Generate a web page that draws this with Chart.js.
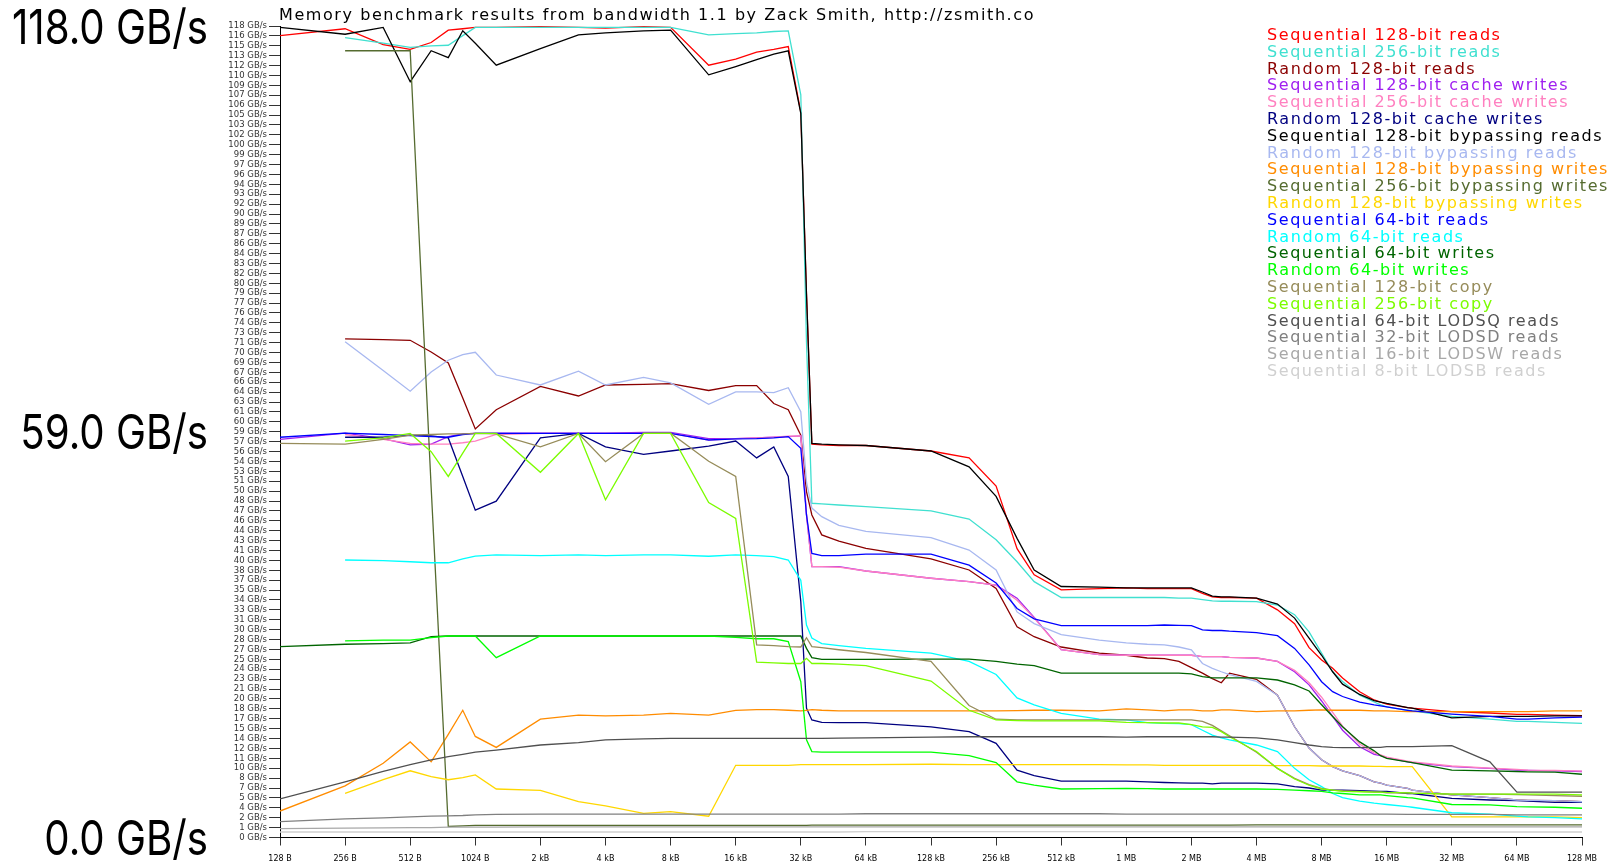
<!DOCTYPE html>
<html>
<head>
<meta charset="utf-8">
<title>Memory benchmark results</title>
<script src="https://cdn.jsdelivr.net/npm/chart.js@4.4.1/dist/chart.umd.min.js"></script>
<style>
  html, body { margin: 0; padding: 0; background: #fff; }
  canvas { display: block; }
</style>
</head>
<body>
<canvas id="chart" width="1610" height="864" style="width:1610px;height:864px"></canvas>
<script>
// Chunk sizes tested, in bytes
const chunkSizes = [
  128, 256, 384, 512, 640, 768, 896, 1024, 1280, 2048,
  3072, 4096, 6144, 8192, 12288, 16384, 20480, 24576, 28672, 32768,
  34816, 36864, 40960, 49152, 65536, 131072, 196608, 262144, 327680, 393216,
  524288, 786432, 1048576, 1310720, 1572864, 1835008, 2097152, 2359296, 2621440, 2883584,
  3145728, 4194304, 5242880, 6291456, 7340032, 8388608, 9437184, 10485760, 12582912, 14680064,
  15728640, 16777216, 20971520, 22020096, 33554432, 50331648, 67108864, 75497472, 100663296, 134217728
];

const xTickLabels = ['128 B', '256 B', '512 B', '1024 B', '2 kB', '4 kB', '8 kB', '16 kB', '32 kB', '64 kB',
  '128 kB', '256 kB', '512 kB', '1 MB', '2 MB', '4 MB', '8 MB', '16 MB', '32 MB', '64 MB', '128 MB'];

const yMax = 118;
const yTickLabels = [0, 1, 2, 4, 5, 7, 8, 10, 11, 12, 14, 15, 17, 18, 20, 21, 23, 24, 25, 27, 28, 30, 31, 33, 34, 35,
  37, 38, 40, 41, 43, 44, 46, 47, 48, 50, 51, 53, 54, 56, 57, 59, 60, 61, 63, 64, 66, 67, 69, 70, 71, 73, 74,
  76, 77, 79, 80, 82, 83, 84, 86, 87, 89, 90, 92, 93, 94, 96, 97, 99, 100, 102, 103, 105, 106, 107, 109, 110,
  112, 113, 115, 116, 118];
const bigYLabels = [0, 59, 118];

const titleText = 'Memory benchmark results from bandwidth 1.1 by Zack Smith, http://zsmith.co';

const seriesNames = [
  'Sequential 128-bit reads', 'Sequential 256-bit reads', 'Random 128-bit reads',
  'Sequential 128-bit cache writes', 'Sequential 256-bit cache writes', 'Random 128-bit cache writes',
  'Sequential 128-bit bypassing reads', 'Random 128-bit bypassing reads', 'Sequential 128-bit bypassing writes',
  'Sequential 256-bit bypassing writes', 'Random 128-bit bypassing writes', 'Sequential 64-bit reads',
  'Random 64-bit reads', 'Sequential 64-bit writes', 'Random 64-bit writes', 'Sequential 128-bit copy',
  'Sequential 256-bit copy', 'Sequential 64-bit LODSQ reads', 'Sequential 32-bit LODSD reads',
  'Sequential 16-bit LODSW reads', 'Sequential 8-bit LODSB reads'
];

const seriesColors = [
  '#ff0000', '#40e0d0', '#8b0000', '#a020f0', '#ff80c0', '#000080', '#000000', '#a8b8f0', '#ff8c00',
  '#556b2f', '#ffd700', '#0000ff', '#00ffff', '#006400', '#00ff00', '#968c5a', '#7cfc00',
  '#505050', '#808080', '#a8a8a8', '#d0d0d0'
];

// Bandwidth in GB/s, one value per chunk size (null = not measured)
const seq128Reads = [116.6,117.6,115.3,114.6,115.6,117.4,117.6,117.8,117.8,117.9,
  117.8,117.7,117.9,117.8,112.3,113.2,114.2,114.6,115.0,105.5,
  79.0,57.2,57.1,57.0,57.0,56.2,55.2,51.1,42.0,38.2,
  36.0,36.2,36.3,36.2,36.2,36.2,36.2,35.5,35.0,34.9,
  34.9,34.8,33.1,31.1,27.6,25.8,24.6,23.2,21.2,20.0,
  19.7,19.4,18.9,18.8,18.3,18.1,17.9,17.9,17.8,17.7];
const seq256Reads = [null,116.3,115.5,114.9,115.1,115.2,116.6,117.8,117.8,117.8,
  117.8,117.8,117.8,117.8,116.7,116.9,117.0,117.2,117.3,108.0,
  72.0,48.6,48.5,48.35,48.1,47.5,46.3,43.3,40.1,37.2,
  34.9,34.9,34.9,34.9,34.9,34.8,34.8,34.6,34.4,34.35,
  34.35,34.3,33.8,32.4,29.9,26.8,24.1,22.7,20.7,19.7,
  19.3,19.0,18.5,18.4,17.6,17.2,16.9,16.9,16.75,16.6];
const rand128Reads = [null,72.5,72.4,72.3,70.6,69.0,63.9,59.4,62.2,65.6,
  64.2,65.8,65.9,66.0,65.0,65.7,65.7,63.1,62.2,58.5,
  50.3,46.9,44.0,43.1,42.05,40.5,38.9,36.2,30.65,29.2,
  27.7,26.8,26.5,26.1,26.0,25.6,24.7,23.9,23.1,22.5,
  23.9,23.0,20.7,16.1,13.0,11.3,10.3,9.7,9.0,8.1,
  7.9,7.6,7.15,6.9,6.2,5.8,5.45,5.4,5.35,5.2];
const seq128CacheWrites = [57.9,58.8,58.0,57.1,57.2,58.3,58.7,58.75,58.8,58.8,
  58.8,58.8,58.9,58.9,58.0,58.0,58.1,58.2,58.3,58.4,
  46.9,39.4,39.4,39.4,38.75,37.7,37.2,36.7,34.8,32.0,
  27.3,26.6,26.5,26.5,26.5,26.5,26.5,26.3,26.3,26.3,
  26.2,26.1,25.6,24.1,22.2,19.85,17.6,15.6,13.2,12.1,
  11.9,11.6,11.0,10.9,10.3,10.05,9.8,9.75,9.7,9.6];
const seq256CacheWrites = [null,58.6,57.9,57.3,57.2,57.2,57.4,57.65,58.6,58.75,
  58.75,58.75,58.75,58.75,57.8,58.0,58.1,58.2,58.35,58.4,
  47.0,39.4,39.4,39.3,38.75,37.7,37.2,36.7,34.5,31.9,
  27.3,26.6,26.5,26.5,26.5,26.5,26.5,26.3,26.3,26.3,
  26.2,26.1,25.6,24.3,22.5,20.4,18.2,16.2,13.6,12.3,
  12.0,11.7,11.1,11.0,10.4,10.1,9.9,9.8,9.75,9.65];
const rand128CacheWrites = [null,58.2,58.2,58.5,58.4,58.1,52.5,47.6,48.9,58.1,
  58.75,56.8,55.7,56.2,56.9,57.65,55.2,56.8,52.5,34.3,
  18.8,17.1,16.75,16.7,16.7,16.1,15.4,13.7,9.8,9.0,
  8.2,8.2,8.2,8.1,8.0,7.95,7.9,7.9,7.8,7.9,
  7.9,7.9,7.8,7.4,7.2,6.9,6.9,6.9,6.8,6.75,
  6.7,6.7,6.4,6.4,5.7,5.45,5.35,5.3,5.1,5.1];
const seq128BypassReads = [117.8,116.8,117.8,109.9,114.4,113.4,117.3,115.5,112.3,114.7,
  116.7,117.0,117.3,117.4,110.9,112.1,113.1,113.9,114.4,105.3,
  79.0,57.3,57.2,57.1,57.0,56.2,53.9,49.6,43.5,38.9,
  36.5,36.4,36.3,36.3,36.3,36.3,36.3,35.7,35.1,35.0,
  35.0,34.8,33.95,31.9,29.0,26.5,24.1,22.3,20.8,19.9,
  19.7,19.5,18.9,18.8,17.4,17.6,17.6,17.6,17.7,17.7];
const rand128BypassReads = [null,72.1,67.9,64.9,67.7,69.4,70.2,70.55,67.25,65.8,
  67.8,65.8,66.9,66.1,63.0,64.8,64.8,64.7,65.4,61.9,
  51.7,47.9,46.65,45.4,44.5,43.6,41.8,38.9,32.8,31.1,
  29.5,28.7,28.3,28.1,28.0,27.7,27.3,25.3,24.6,24.1,
  23.7,22.7,20.7,16.1,13.0,11.3,10.3,9.7,9.0,8.1,
  7.9,7.6,7.15,6.9,6.2,5.8,5.45,5.4,5.35,5.2];
const seq128BypassWrites = [3.85,7.5,10.8,13.9,11.0,15.0,18.5,14.7,13.1,17.2,
  17.8,17.7,17.8,18.05,17.8,18.5,18.6,18.6,18.5,18.4,
  18.5,18.6,18.5,18.4,18.4,18.4,18.4,18.4,18.45,18.5,
  18.5,18.4,18.7,18.55,18.4,18.55,18.55,18.4,18.4,18.55,
  18.55,18.3,18.4,18.4,18.5,18.55,18.5,18.5,18.5,18.4,
  18.4,18.4,18.3,18.3,18.3,18.3,18.3,18.3,18.4,18.4];
const seq256BypassWrites = [null,114.4,114.4,114.4,50.9,1.6,1.7,1.75,1.75,1.75,
  1.75,1.75,1.75,1.75,1.75,1.75,1.75,1.75,1.75,1.75,
  1.75,1.8,1.8,1.8,1.8,1.8,1.8,1.8,1.8,1.8,
  1.8,1.8,1.8,1.8,1.8,1.8,1.8,1.8,1.8,1.8,
  1.8,1.85,1.85,1.85,1.85,1.85,1.85,1.85,1.85,1.85,
  1.85,1.85,1.85,1.85,1.85,1.85,1.85,1.85,1.85,1.85];
const rand128BypassWrites = [null,6.43,8.4,9.7,8.85,8.4,8.7,9.1,7.05,6.86,
  5.2,4.6,3.5,3.75,3.1,10.5,10.5,10.5,10.5,10.6,
  10.6,10.6,10.6,10.6,10.6,10.65,10.6,10.6,10.6,10.6,
  10.6,10.6,10.55,10.55,10.5,10.5,10.5,10.5,10.5,10.5,
  10.5,10.5,10.45,10.45,10.45,10.4,10.4,10.4,10.4,10.35,
  10.35,10.3,10.3,10.3,3.0,3.0,3.0,3.0,3.0,2.9];
const seq64Reads = [58.2,58.8,58.6,58.45,58.3,58.2,58.6,58.75,58.75,58.75,
  58.75,58.75,58.75,58.75,57.8,57.95,58.0,58.1,58.3,56.6,
  46.9,41.3,41.0,41.0,41.2,41.2,39.6,37.0,33.3,31.8,
  30.8,30.8,30.8,30.8,30.9,30.85,30.8,30.2,30.1,30.1,
  30.0,29.8,29.35,27.5,25.1,22.65,21.2,20.5,19.7,19.3,
  19.15,19.0,18.5,18.4,17.95,17.6,17.2,17.2,17.4,17.5];
const rand64Reads = [null,40.35,40.25,40.1,39.95,39.95,40.5,40.9,41.1,41.0,
  41.1,41.0,41.1,41.1,40.9,41.1,41.0,40.85,40.35,37.4,
  30.9,29.0,28.2,27.9,27.5,26.8,25.6,23.7,20.3,19.3,
  18.05,17.2,17.1,16.7,16.6,16.55,16.4,15.6,14.9,14.5,
  14.2,13.45,12.5,10.05,8.4,7.4,6.4,5.8,5.3,5.0,
  4.9,4.8,4.5,4.4,3.6,3.4,3.1,3.0,2.9,2.7];
const seq64Writes = [27.75,28.1,28.2,28.3,29.2,29.3,29.3,29.3,29.3,29.3,
  29.3,29.3,29.3,29.3,29.3,29.3,29.3,29.3,29.3,29.3,
  27.5,26.15,25.9,25.9,25.9,25.95,25.95,25.6,25.2,25.0,
  23.9,23.9,23.9,23.9,23.9,23.9,23.8,23.4,23.2,23.2,
  23.2,23.2,22.9,22.2,21.3,19.3,17.6,16.1,13.9,12.6,
  11.9,11.5,11.0,10.9,9.8,9.7,9.6,9.55,9.5,9.2];
const rand64Writes = [null,28.6,28.7,28.7,29.05,29.3,29.3,29.3,26.15,29.3,
  29.3,29.3,29.3,29.3,29.3,29.1,28.9,28.9,28.5,22.65,
  14.2,12.5,12.4,12.4,12.4,12.4,11.9,10.9,8.1,7.6,
  7.05,7.1,7.15,7.1,7.05,7.05,7.05,7.05,7.05,7.05,
  7.05,7.05,7.0,6.9,6.8,6.7,6.5,6.4,6.2,6.2,
  6.2,6.1,5.8,5.75,4.8,4.75,4.5,4.45,4.4,4.25];
const seq128Copy = [57.3,57.2,57.9,58.5,58.6,58.7,58.7,58.75,58.7,56.8,
  58.75,54.65,58.75,58.8,54.7,52.5,28.0,27.9,27.75,27.7,
  29.05,27.75,27.6,27.3,26.9,25.6,19.2,17.2,17.1,17.1,
  17.1,17.1,17.1,17.1,17.1,17.1,17.1,16.9,16.3,15.5,
  14.8,12.4,10.05,8.6,7.7,7.15,6.9,6.8,6.7,6.6,
  6.6,6.5,6.5,6.45,6.3,6.3,6.25,6.2,6.1,6.0];
const seq256Copy = [null,57.65,58.1,58.75,56.1,52.5,55.9,58.75,58.75,53.1,
  58.75,49.1,58.75,58.75,48.7,46.4,25.5,25.4,25.3,25.3,
  26.05,25.3,25.3,25.2,25.0,22.75,18.5,17.1,17.0,16.95,
  16.95,16.95,16.75,16.7,16.65,16.65,16.4,16.1,16.0,15.4,
  14.65,12.5,10.05,8.5,7.6,7.05,6.9,6.7,6.65,6.6,
  6.6,6.55,6.5,6.45,6.3,6.3,6.3,6.3,6.3,6.2];
const lodsqReads = [5.6,8.1,9.6,10.6,11.3,11.75,12.1,12.4,12.7,13.45,
  13.8,14.2,14.35,14.4,14.4,14.4,14.4,14.4,14.4,14.4,
  14.4,14.4,14.4,14.45,14.5,14.6,14.65,14.65,14.65,14.65,
  14.65,14.65,14.6,14.65,14.65,14.65,14.65,14.65,14.65,14.6,
  14.6,14.5,14.2,13.8,13.45,13.2,13.1,13.06,13.06,13.1,
  13.1,13.2,13.2,13.2,13.35,11.0,6.6,6.6,6.6,6.6];
const lodsdReads = [2.3,2.7,2.85,3.0,3.1,3.15,3.2,3.3,3.35,3.4,
  3.4,3.4,3.4,3.4,3.4,3.4,3.4,3.4,3.4,3.4,
  3.4,3.4,3.4,3.4,3.45,3.45,3.45,3.45,3.45,3.45,
  3.45,3.45,3.4,3.4,3.4,3.4,3.4,3.4,3.4,3.4,
  3.4,3.4,3.4,3.4,3.4,3.4,3.4,3.4,3.4,3.4,
  3.4,3.4,3.35,3.35,3.35,3.35,3.3,3.3,3.3,3.3];
const lodswReads = [1.3,1.35,1.4,1.45,1.45,1.5,1.5,1.5,1.5,1.55,
  1.55,1.55,1.55,1.55,1.55,1.55,1.55,1.55,1.55,1.55,
  1.55,1.55,1.55,1.55,1.55,1.55,1.55,1.55,1.55,1.55,
  1.55,1.55,1.55,1.55,1.55,1.55,1.55,1.55,1.55,1.55,
  1.55,1.55,1.55,1.55,1.55,1.55,1.55,1.55,1.55,1.55,
  1.55,1.55,1.55,1.55,1.55,1.55,1.55,1.55,1.55,1.55];
const lodsbReads = [0.8,0.8,0.8,0.8,0.8,0.8,0.8,0.8,0.8,0.8,
  0.8,0.8,0.8,0.8,0.8,0.8,0.8,0.8,0.8,0.8,
  0.8,0.8,0.8,0.8,0.85,0.85,0.85,0.85,0.85,0.85,
  0.85,0.85,0.85,0.85,0.85,0.85,0.85,0.85,0.85,0.85,
  0.85,0.85,0.85,0.85,0.85,0.85,0.85,0.85,0.85,0.85,
  0.85,0.85,0.8,0.8,0.8,0.8,0.8,0.8,0.8,0.8];

const seriesValues = [
  seq128Reads, seq256Reads, rand128Reads, seq128CacheWrites, seq256CacheWrites, rand128CacheWrites,
  seq128BypassReads, rand128BypassReads, seq128BypassWrites, seq256BypassWrites, rand128BypassWrites,
  seq64Reads, rand64Reads, seq64Writes, rand64Writes, seq128Copy, seq256Copy,
  lodsqReads, lodsdReads, lodswReads, lodsbReads
];

const datasets = seriesValues.map((vals, i) => ({
  label: seriesNames[i],
  data: chunkSizes.map((size, j) => ({ x: size, y: vals[j] })),
  borderColor: seriesColors[i],
  backgroundColor: seriesColors[i],
  borderWidth: 1.3,
  pointRadius: 0,
  pointHoverRadius: 0,
  tension: 0,
  fill: false,
  spanGaps: false,
  order: seriesValues.length - i   // later series are painted on top
}));

// White page background
const whiteBackground = {
  id: 'whiteBackground',
  beforeDraw(chart) {
    const c = chart.ctx;
    c.save();
    c.fillStyle = '#ffffff';
    c.fillRect(0, 0, chart.width, chart.height);
    c.restore();
  }
};

// Letter spacing that makes a string span a given width
function spacingFor(c, text, width) {
  c.letterSpacing = '0px';
  const w = c.measureText(text).width;
  return Math.max(0, (width - w) / text.length);
}

// Title, coloured series key and the large axis captions
const annotations = {
  id: 'annotations',
  afterDraw(chart) {
    const c = chart.ctx;
    const yScale = chart.scales.y;
    c.save();
    c.textAlign = 'left';
    c.textBaseline = 'alphabetic';

    // Title
    c.font = '16px "DejaVu Sans"';
    c.fillStyle = '#000';
    const ts = spacingFor(c, titleText, 756);
    c.letterSpacing = ts + 'px';
    c.fillText(titleText, 279, 19.5);

    // Series key
    c.font = '16px "DejaVu Sans"';
    const longest = seriesNames.reduce((a, b) => (b.length > a.length ? b : a));
    const ls = spacingFor(c, longest, 342);
    c.letterSpacing = ls + 'px';
    seriesNames.forEach((name, i) => {
      c.fillStyle = seriesColors[i];
      c.fillText(name, 1267, 40 + i * 16.8);
    });

    // Large captions at bottom, middle and top of the value axis
    c.letterSpacing = '0px';
    c.font = '48px Inter, "DejaVu Sans"';
    c.fillStyle = '#000';
    const sample = yMax.toFixed(1) + ' GB/s';
    const sx = 196 / c.measureText(sample).width;
    bigYLabels.forEach(v => {
      const txt = v.toFixed(1) + ' GB/s';
      const w = c.measureText(txt).width * sx;
      const py = yScale.getPixelForValue(v);
      c.save();
      c.translate(208 - w, py + 17.5);
      c.scale(sx, 1);
      c.fillText(txt, 0, 0);
      c.restore();
    });
    c.restore();
  }
};

new Chart(document.getElementById('chart').getContext('2d'), {
  type: 'line',
  data: { datasets },
  options: {
    responsive: false,
    animation: false,
    devicePixelRatio: 1,
    events: [],
    layout: { padding: { left: 0, right: 28, top: 26, bottom: 0 } },
    plugins: {
      legend: { display: false },
      tooltip: { enabled: false },
      title: { display: false }
    },
    scales: {
      x: {
        type: 'logarithmic',
        min: chunkSizes[0],
        max: chunkSizes[chunkSizes.length - 1],
        afterBuildTicks: s => { s.ticks = xTickLabels.map((_, i) => ({ value: chunkSizes[0] * Math.pow(2, i) })); },
        ticks: {
          autoSkip: false, maxRotation: 0, minRotation: 0, padding: 8.5,
          color: '#000', font: { family: 'DejaVu Sans', size: 8 },
          callback: (v, i) => xTickLabels[i]
        },
        grid: { drawOnChartArea: false, drawTicks: true, tickLength: 8, color: '#333', lineWidth: 1 },
        border: { display: true, color: '#000', width: 1 },
        afterFit: s => { s.height = 26.5; }
      },
      y: {
        type: 'linear',
        min: 0,
        max: yMax,
        afterBuildTicks: s => { s.ticks = yTickLabels.map((_, i) => ({ value: i * yMax / (yTickLabels.length - 1) })); },
        ticks: {
          autoSkip: false, padding: 2, color: '#333',
          font: { family: 'DejaVu Sans', size: 8.5 },
          callback: (v, i) => yTickLabels[i] + ' GB/s'
        },
        grid: { drawOnChartArea: false, drawTicks: true, tickLength: 11, color: '#333', lineWidth: 1 },
        border: { display: true, color: '#000', width: 1 },
        afterFit: s => { s.width = 280; }
      }
    }
  },
  plugins: [whiteBackground, annotations]
});
</script>
</body>
</html>
